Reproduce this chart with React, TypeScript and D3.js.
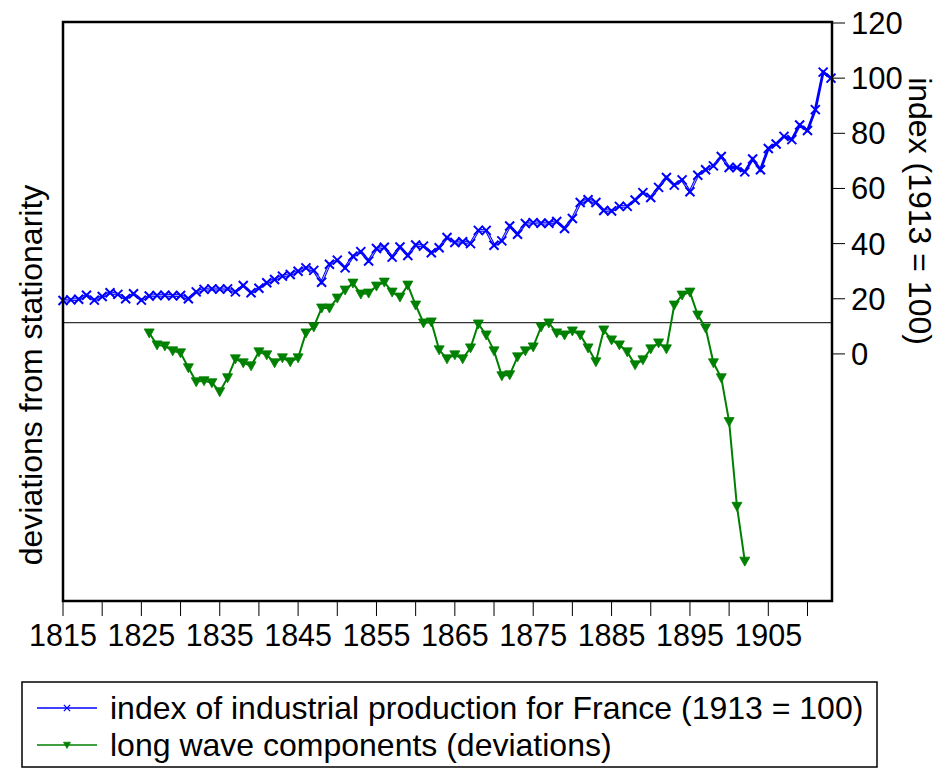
import React from 'react';
import * as d3 from 'd3';

// index of industrial production for France (1913 = 100), one value per year from 1815
const indexStart = 1815;
const indexValues = [
  19.4, 19.6, 19.8, 21.3, 19.5, 20.8, 22.2, 21.6, 20.0, 21.8,
  19.5, 21.0, 21.2, 21.3, 21.1, 21.2, 20.0, 22.5, 23.4, 23.6,
  23.5, 23.6, 22.5, 24.8, 22.2, 23.8, 25.8, 27.0, 28.2, 28.8,
  30.0, 31.2, 30.3, 26.0, 32.5, 34.0, 31.2, 35.4, 37.1, 33.7,
  38.2, 38.7, 35.1, 38.8, 35.7, 39.5, 39.1, 36.7, 38.5, 42.2,
  40.4, 40.7, 40.0, 44.8, 44.8, 39.4, 41.0, 46.4, 43.4, 47.3,
  47.6, 47.4, 47.4, 48.0, 45.5, 49.1, 54.9, 55.9, 54.9, 52.0,
  51.8, 53.5, 53.5, 55.8, 58.5, 56.7, 60.4, 64.0, 61.2, 63.1,
  58.8, 64.8, 66.8, 68.2, 71.6, 67.6, 67.6, 66.0, 70.7, 66.8,
  74.5, 76.1, 78.9, 77.7, 83.0, 81.0, 88.6, 102.2, 100.0,
];

// long wave components (deviations), one value per year from 1826
const waveStart = 1826;
const waveValues = [
  -0.011, -0.023, -0.024, -0.029, -0.031, -0.046, -0.060, -0.059, -0.061, -0.070,
  -0.056, -0.037, -0.041, -0.044, -0.030, -0.033, -0.041, -0.036, -0.040, -0.036,
  -0.011, -0.005, 0.014, 0.014, 0.024, 0.032, 0.039, 0.028, 0.029, 0.036,
  0.040, 0.030, 0.025, 0.037, 0.017, -0.001, 0.000, -0.028, -0.037, -0.033,
  -0.037, -0.026, -0.002, -0.013, -0.029, -0.054, -0.053, -0.035, -0.029, -0.025,
  -0.005, -0.001, -0.011, -0.013, -0.009, -0.013, -0.026, -0.040, -0.008, -0.018,
  -0.023, -0.030, -0.043, -0.038, -0.027, -0.021, -0.027, 0.017, 0.027, 0.030,
  0.007, -0.006, -0.041, -0.056, -0.100, -0.185, -0.240,
];

const xTicks = [1815, 1820, 1825, 1830, 1835, 1840, 1845, 1850, 1855, 1860,
  1865, 1870, 1875, 1880, 1885, 1890, 1895, 1900, 1905, 1910];
const xLabels = [1815, 1825, 1835, 1845, 1855, 1865, 1875, 1885, 1895, 1905];
const rightTicks = [0, 20, 40, 60, 80, 100, 120];

const BLUE = '#0000ff';
const GREEN = '#008000';
const FONT = '"Liberation Sans", Arial, sans-serif';

const W = 942;
const H = 771;
const plot = { left: 63, right: 832, top: 22, bottom: 601 };

export default function App() {
  const x = d3.scaleLinear().domain([1815, 1913]).range([plot.left, 831]);
  const yRight = d3.scaleLinear().domain([-89.6, 120]).range([plot.bottom, 23]);
  const yLeft = d3.scaleLinear().domain([-0.28, 0.30]).range([plot.bottom, 23]);

  const indexData = indexValues.map((v, i) => ({ year: indexStart + i, v }));
  const waveData = waveValues.map((v, i) => ({ year: waveStart + i, v }));

  const indexLine = d3.line<{ year: number; v: number }>()
    .x(d => x(d.year))
    .y(d => yRight(d.v));
  const waveLine = d3.line<{ year: number; v: number }>()
    .x(d => x(d.year))
    .y(d => yLeft(d.v));

  const early = indexData.filter(d => d.year <= 1900);

  const cross = 'M-4.5,-4.5L4.5,4.5M-4.5,4.5L4.5,-4.5';
  const tri = 'M-5,-4L5,-4L0,5Z';

  return (
    <svg width={W} height={H} style={{ position: 'absolute', left: 0, top: 0, background: '#fff' }}
      fontFamily={FONT}>
      <rect x={0} y={0} width={W} height={H} fill="#fff" />

      {/* zero line of the deviations */}
      <line x1={plot.left} x2={plot.right} y1={yLeft(0) + 0.7} y2={yLeft(0) + 0.7} stroke="#333" strokeWidth={1.2} />

      {/* index series */}
      <path d={indexLine(indexData) || ''} fill="none" stroke={BLUE} strokeWidth={2.8} />
      <path d={indexLine(early) || ''} fill="none" stroke="#c8c8ff" strokeWidth={0.9} />
      {indexData.map(d => (
        <path key={d.year} d={cross} transform={`translate(${x(d.year)},${yRight(d.v)})`}
          stroke={BLUE} strokeWidth={2} fill="none" />
      ))}

      {/* long wave series */}
      <path d={waveLine(waveData) || ''} fill="none" stroke={GREEN} strokeWidth={2} />
      {waveData.map(d => (
        <path key={d.year} d={tri} transform={`translate(${x(d.year)},${yLeft(d.v)})`}
          fill={GREEN} stroke={GREEN} strokeWidth={0.8} />
      ))}

      {/* frame */}
      <rect x={plot.left} y={plot.top} width={plot.right - plot.left} height={plot.bottom - plot.top}
        fill="none" stroke="#000" strokeWidth={2.5} />

      {/* x axis */}
      {xTicks.map(t => (
        <line key={t} x1={x(t)} x2={x(t)} y1={plot.bottom} y2={plot.bottom + 15} stroke="#000" strokeWidth={1} />
      ))}
      {xLabels.map(t => (
        <text key={t} x={x(t)} y={646} fontSize={30.5} textAnchor="middle" fill="#000">{t}</text>
      ))}

      {/* right axis */}
      {rightTicks.map(t => (
        <g key={t}>
          <line x1={plot.right} x2={plot.right + 13} y1={yRight(t)} y2={yRight(t)} stroke="#000" strokeWidth={1} />
          <text x={851} y={yRight(t) + 11} fontSize={31} fill="#000">{t}</text>
        </g>
      ))}
      <text transform={`translate(909,211) rotate(90)`} fontSize={32} textAnchor="middle" fill="#000">
        index (1913 = 100)
      </text>
      <text transform={`translate(42,375) rotate(-90)`} fontSize={32} textAnchor="middle" fill="#000">
        deviations from stationarity
      </text>

      {/* legend */}
      <rect x={22} y={682} width={855} height={85} fill="#fff" stroke="#000" strokeWidth={1.5} />
      <line x1={37} x2={97} y1={708} y2={708} stroke={BLUE} strokeWidth={1.5} />
      <path d={cross} transform="translate(67,708) scale(0.7)" stroke={BLUE} strokeWidth={1.8} fill="none" />
      <text x={110} y={719} fontSize={32} fill="#000">index of industrial production for France (1913 = 100)</text>
      <line x1={37} x2={97} y1={745} y2={745} stroke={GREEN} strokeWidth={1.5} />
      <path d={tri} transform="translate(67,745) scale(0.7)" fill={GREEN} stroke={GREEN} />
      <text x={110} y={756} fontSize={32} fill="#000">long wave components (deviations)</text>
    </svg>
  );
}
